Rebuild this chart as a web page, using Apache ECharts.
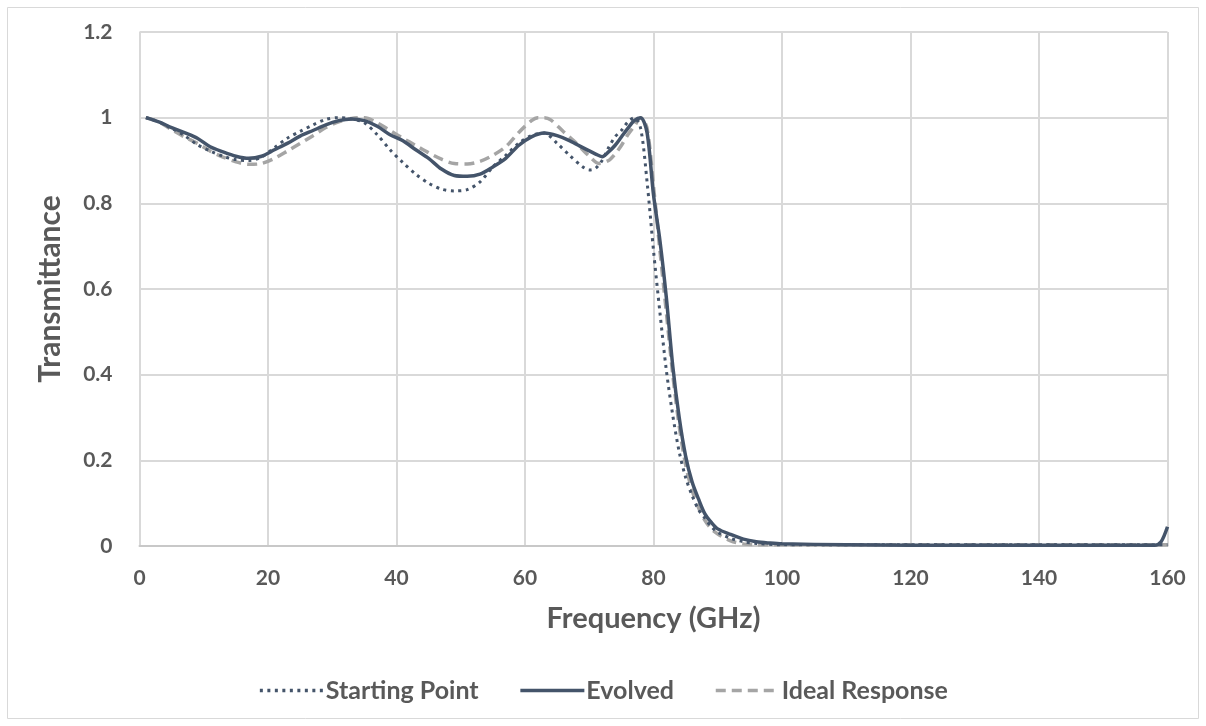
<!DOCTYPE html>
<html><head><meta charset="utf-8">
<script src="https://cdn.jsdelivr.net/npm/echarts@6/dist/echarts.min.js"></script>
<style>html,body{margin:0;padding:0;background:#fff}#c{width:1206px;height:726px}</style>
</head><body><div id="c"></div>
<script>
const seriesNames = ["Starting Point", "Evolved", "Ideal Response"];
const xTicks = [0, 20, 40, 60, 80, 100, 120, 140, 160];
const yTicks = [0, 0.2, 0.4, 0.6, 0.8, 1, 1.2];

const startX = [1,3,5,7,9,11,13,15,17,19,21,23,25,27,29,31,33,35,37,39,41,43,45,47,49,51,53,55,57,59,61,63,65,67,69,70,71,72,73,74,75,76,77,78,79,80,81,82,83,84,85,86,87,88,89,90,92,94,96,100,120,140,160];
const startY = [1.0,0.99,0.975,0.958,0.937,0.922,0.91,0.902,0.9,0.908,0.93,0.952,0.968,0.983,0.996,1.0,0.997,0.988,0.96,0.925,0.895,0.868,0.847,0.833,0.829,0.832,0.85,0.885,0.912,0.94,0.958,0.964,0.94,0.911,0.885,0.878,0.882,0.9,0.93,0.955,0.97,0.99,1.0,0.975,0.85,0.69,0.545,0.41,0.305,0.22,0.16,0.118,0.085,0.065,0.045,0.032,0.018,0.01,0.006,0.003,0.003,0.003,0.003];

const evolvedX = [1,3,5,7,9,11,13,15,17,19,21,23,25,27,29,31,33,35,37,39,41,43,45,47,49,51,53,55,57,59,61,63,65,67,69,71,72,73,74,75,76,77,78,79,80,81,82,83,84,85,86,87,88,89,90,92,94,96,98,100,110,120,130,140,150,158,159,160];
const evolvedY = [1.0,0.99,0.977,0.965,0.952,0.932,0.92,0.91,0.905,0.91,0.925,0.94,0.957,0.97,0.983,0.993,0.997,0.993,0.98,0.96,0.946,0.925,0.905,0.88,0.865,0.863,0.868,0.885,0.905,0.935,0.955,0.964,0.958,0.946,0.93,0.915,0.909,0.92,0.935,0.955,0.975,0.993,1.0,0.965,0.82,0.713,0.58,0.42,0.3,0.21,0.15,0.11,0.075,0.055,0.04,0.027,0.016,0.01,0.007,0.005,0.003,0.002,0.002,0.002,0.002,0.002,0.01,0.045];

const idealX = [1,3,5,7,9,11,13,15,17,19,21,23,25,27,29,31,33,35,37,39,41,43,45,47,49,51,53,55,57,59,61,62,63,64,66,68,70,71.5,73,74,75,76,77,78,79,80,81,82,83,84,85,86,87,88,89,90,92,94,96,120,140,160];
const idealY = [1.0,0.99,0.972,0.955,0.94,0.922,0.908,0.897,0.891,0.893,0.905,0.922,0.94,0.958,0.977,0.99,0.998,1.0,0.988,0.97,0.952,0.935,0.918,0.903,0.893,0.892,0.898,0.912,0.932,0.965,0.993,1.0,1.0,0.995,0.967,0.94,0.91,0.893,0.9,0.915,0.935,0.96,0.98,1.0,0.975,0.84,0.69,0.545,0.4,0.28,0.19,0.13,0.09,0.06,0.04,0.028,0.012,0.005,0.003,0.003,0.003,0.003];

const pairs = (xs, ys) => xs.map((x, i) => [x, ys[i]]);
const FONT = 'Lato';
const TXT = '#595959';

const chart = echarts.init(document.getElementById('c'), null, {renderer: 'canvas'});
chart.setOption({
  animation: false,
  backgroundColor: '#fff',
  graphic: [{type: 'rect', shape: {x: 7.5, y: 7.5, width: 1191, height: 711}, style: {fill: 'none', stroke: '#d9d9d9', lineWidth: 1}, silent: true}],
  grid: {left: 139.5, right: 38.5, top: 32, bottom: 180},
  legend: {
    data: seriesNames,
    bottom: 18,
    left: 'center',
    itemWidth: 64,
    itemHeight: 14,
    itemGap: 40,
    itemStyle: {opacity: 0},
    lineStyle: {width: 3.5},
    textStyle: {fontFamily: FONT, fontWeight: 'bold', fontSize: 25, color: TXT, padding: [0, 0, 0, -3]}
  },
  xAxis: {
    type: 'value', min: 0, max: 160, interval: 20,
    name: 'Frequency (GHz)', nameLocation: 'middle', nameGap: 58,
    nameTextStyle: {fontFamily: FONT, fontWeight: 'bold', fontSize: 29, color: TXT},
    axisLine: {show: true, lineStyle: {color: '#c8c8c8', width: 2}},
    axisTick: {show: false},
    axisLabel: {fontFamily: FONT, fontWeight: 'bold', fontSize: 21, color: TXT, margin: 22,
      formatter: v => xTicks.includes(v) ? String(v) : ''},
    splitLine: {show: true, lineStyle: {color: '#d9d9d9', width: 2}}
  },
  yAxis: {
    type: 'value', min: 0, max: 1.2, interval: 0.2,
    name: 'Transmittance', nameLocation: 'middle', nameGap: 74,
    nameTextStyle: {fontFamily: FONT, fontWeight: 'bold', fontSize: 30, color: TXT},
    axisLine: {show: false},
    axisTick: {show: false},
    axisLabel: {fontFamily: FONT, fontWeight: 'bold', fontSize: 21, color: TXT, margin: 27,
      formatter: v => { const t = yTicks.find(k => Math.abs(k - v) < 1e-6); return t === undefined ? '' : String(t); }},
    splitLine: {show: true, lineStyle: {color: '#d9d9d9', width: 2}}
  },
  series: [
    {name: seriesNames[0], type: 'line', data: pairs(startX, startY), symbol: 'none', smooth: 0.3, z: 3,
      lineStyle: {color: '#44546A', width: 3, type: [3, 4.5]}, itemStyle: {color: '#44546A'}},
    {name: seriesNames[1], type: 'line', data: pairs(evolvedX, evolvedY), symbol: 'none', smooth: 0.3, z: 4,
      lineStyle: {color: '#44546A', width: 3.5}, itemStyle: {color: '#44546A'}},
    {name: seriesNames[2], type: 'line', data: pairs(idealX, idealY), symbol: 'none', smooth: 0.3, z: 2,
      lineStyle: {color: '#A5A5A5', width: 3.5, type: [10, 6]}, itemStyle: {color: '#A5A5A5'}}
  ]
});
</script></body></html>
